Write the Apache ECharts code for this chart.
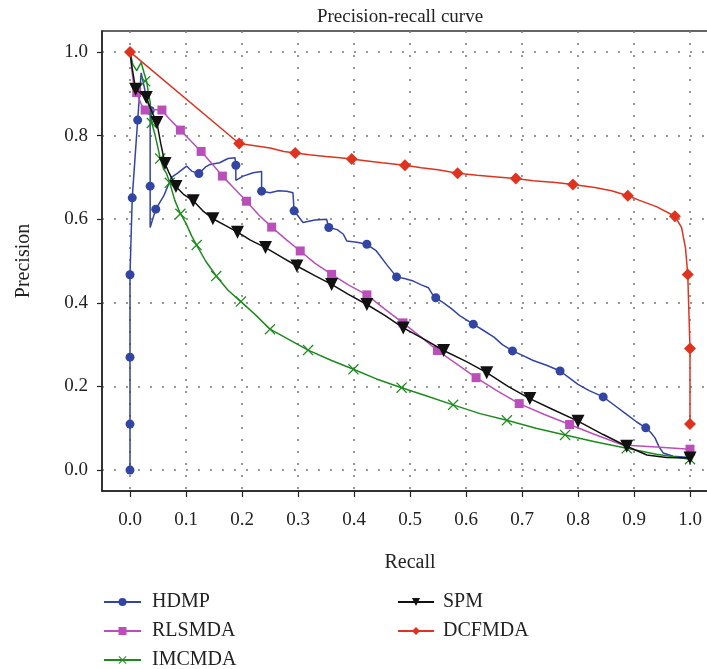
<!DOCTYPE html>
<html>
<head>
<meta charset="utf-8">
<script src="https://cdn.jsdelivr.net/npm/echarts@6/dist/echarts.min.js"></script>
<style>
html,body{margin:0;padding:0;background:#fff;}
#chart{width:707px;height:669px;}
</style>
</head>
<body>
<div id="chart"></div>
<script>
// ---- tick values ----
const xTicks = [0, 0.1, 0.2, 0.3, 0.4, 0.5, 0.6, 0.7, 0.8, 0.9, 1.0];
const yTicks = [0, 0.2, 0.4, 0.6, 0.8, 1.0];

// ---- series names ----
const seriesNames = ['HDMP', 'RLSMDA', 'IMCMDA', 'SPM', 'DCFMDA'];

// ---- HDMP ----
const hdmpCurve = [[0,0],[0,0.11],[0,0.27],[0,0.467],[0.004,0.651],[0.0137,0.837],[0.02,0.95],[0.028,0.9],[0.036,0.86],[0.036,0.679],[0.036,0.58],[0.046,0.624],[0.06,0.655],[0.074,0.70],[0.085,0.71],[0.101,0.727],[0.11,0.715],[0.123,0.709],[0.135,0.725],[0.143,0.731],[0.16,0.735],[0.175,0.745],[0.1875,0.747],[0.189,0.729],[0.189,0.693],[0.202,0.703],[0.22,0.711],[0.235,0.714],[0.235,0.667],[0.25,0.663],[0.265,0.668],[0.28,0.667],[0.291,0.663],[0.293,0.62],[0.309,0.592],[0.33,0.598],[0.351,0.60],[0.355,0.58],[0.37,0.575],[0.381,0.564],[0.387,0.548],[0.405,0.545],[0.423,0.54],[0.44,0.524],[0.458,0.492],[0.476,0.462],[0.49,0.458],[0.506,0.452],[0.52,0.443],[0.533,0.436],[0.542,0.416],[0.546,0.412],[0.56,0.40],[0.575,0.385],[0.59,0.368],[0.613,0.349],[0.63,0.335],[0.65,0.318],[0.665,0.30],[0.683,0.285],[0.70,0.275],[0.72,0.262],[0.745,0.25],[0.768,0.237],[0.785,0.22],[0.80,0.205],[0.82,0.19],[0.845,0.175],[0.865,0.155],[0.885,0.135],[0.905,0.115],[0.921,0.101],[0.93,0.09],[0.9375,0.077],[0.945,0.055],[0.952,0.041],[0.97,0.033],[1.0,0.03]];
const hdmpMarks = [[0,0],[0,0.11],[0,0.27],[0,0.467],[0.004,0.651],[0.0137,0.837],[0.036,0.86],[0.036,0.679],[0.046,0.624],[0.123,0.709],[0.189,0.729],[0.235,0.667],[0.293,0.62],[0.355,0.58],[0.423,0.54],[0.476,0.462],[0.546,0.412],[0.613,0.349],[0.683,0.285],[0.768,0.237],[0.845,0.175],[0.921,0.101]];

// ---- RLSMDA ----
const rlsCurve = [[0,1.0],[0.003,0.96],[0.006,0.927],[0.012,0.903],[0.02,0.875],[0.027,0.861],[0.04,0.862],[0.057,0.861],[0.07,0.84],[0.09,0.813],[0.11,0.785],[0.127,0.762],[0.145,0.735],[0.165,0.703],[0.185,0.675],[0.208,0.643],[0.23,0.61],[0.253,0.581],[0.28,0.55],[0.304,0.524],[0.33,0.495],[0.36,0.468],[0.39,0.443],[0.423,0.419],[0.455,0.385],[0.4875,0.352],[0.52,0.318],[0.549,0.286],[0.585,0.252],[0.618,0.221],[0.655,0.19],[0.695,0.159],[0.74,0.133],[0.785,0.109],[0.83,0.085],[0.88,0.06],[0.94,0.055],[1.0,0.05]];
const rlsMarks = [[0.012,0.903],[0.027,0.861],[0.057,0.861],[0.09,0.813],[0.127,0.762],[0.165,0.703],[0.208,0.643],[0.253,0.581],[0.304,0.524],[0.36,0.468],[0.423,0.419],[0.4875,0.352],[0.549,0.286],[0.618,0.221],[0.695,0.159],[0.785,0.109],[1.0,0.05]];

// ---- IMCMDA ----
const imcCurve = [[0,1.0],[0.005,0.97],[0.012,0.955],[0.02,0.975],[0.025,0.95],[0.03,0.928],[0.033,0.9],[0.036,0.88],[0.039,0.83],[0.045,0.8],[0.05,0.77],[0.054,0.745],[0.06,0.72],[0.065,0.71],[0.071,0.687],[0.08,0.645],[0.09,0.613],[0.1,0.59],[0.11,0.56],[0.119,0.538],[0.135,0.5],[0.154,0.464],[0.175,0.43],[0.198,0.403],[0.225,0.37],[0.25,0.337],[0.28,0.315],[0.318,0.287],[0.36,0.262],[0.399,0.241],[0.44,0.218],[0.485,0.197],[0.53,0.177],[0.577,0.156],[0.625,0.135],[0.673,0.119],[0.725,0.1],[0.777,0.084],[0.83,0.068],[0.887,0.052],[0.94,0.038],[1.0,0.026]];
const imcMarks = [[0.027,0.93],[0.039,0.83],[0.054,0.745],[0.071,0.687],[0.09,0.613],[0.119,0.538],[0.154,0.464],[0.198,0.403],[0.25,0.337],[0.318,0.287],[0.399,0.241],[0.485,0.197],[0.577,0.156],[0.673,0.119],[0.777,0.084],[0.887,0.052],[1.0,0.026]];

// ---- SPM ----
const spmCurve = [[0,1.0],[0.004,0.96],[0.01,0.911],[0.02,0.9],[0.029,0.891],[0.038,0.86],[0.048,0.831],[0.055,0.78],[0.0625,0.733],[0.07,0.71],[0.082,0.678],[0.095,0.66],[0.113,0.644],[0.13,0.62],[0.148,0.601],[0.17,0.585],[0.192,0.569],[0.215,0.55],[0.242,0.532],[0.27,0.51],[0.298,0.488],[0.33,0.465],[0.36,0.444],[0.39,0.42],[0.423,0.396],[0.455,0.37],[0.488,0.34],[0.525,0.313],[0.56,0.286],[0.6,0.26],[0.637,0.233],[0.675,0.2],[0.714,0.171],[0.755,0.145],[0.80,0.117],[0.845,0.085],[0.887,0.057],[0.923,0.036],[0.958,0.03],[1.0,0.029]];
const spmMarks = [[0.01,0.911],[0.029,0.891],[0.048,0.831],[0.0625,0.733],[0.082,0.678],[0.113,0.644],[0.148,0.601],[0.192,0.569],[0.242,0.532],[0.298,0.488],[0.36,0.444],[0.423,0.396],[0.488,0.34],[0.56,0.286],[0.637,0.233],[0.714,0.171],[0.80,0.117],[0.887,0.057],[1.0,0.029]];

// ---- DCFMDA ----
const dcfCurve = [[0,1.0],[0.195,0.781],[0.22,0.776],[0.25,0.77],[0.275,0.762],[0.295,0.758],[0.32,0.754],[0.35,0.75],[0.375,0.747],[0.396,0.744],[0.42,0.74],[0.45,0.735],[0.491,0.729],[0.52,0.723],[0.55,0.718],[0.585,0.71],[0.62,0.705],[0.655,0.701],[0.689,0.697],[0.72,0.692],[0.76,0.688],[0.791,0.683],[0.83,0.676],[0.86,0.668],[0.889,0.656],[0.91,0.645],[0.94,0.63],[0.973,0.607],[0.985,0.58],[0.992,0.53],[0.996,0.468],[0.998,0.38],[1.0,0.291],[1.0,0.11]];
const dcfMarks = [[0,1.0],[0.195,0.781],[0.295,0.758],[0.396,0.744],[0.491,0.729],[0.585,0.71],[0.689,0.697],[0.791,0.683],[0.889,0.656],[0.973,0.607],[0.996,0.468],[1.0,0.291],[1.0,0.11]];

// ---- styling ----
const FONT = 'Liberation Serif';
const crossPath = 'path://M0,0.8 L0.8,0 L5,4.2 L9.2,0 L10,0.8 L5.8,5 L10,9.2 L9.2,10 L5,5.8 L0.8,10 L0,9.2 L4.2,5 Z';
const triDownPath = 'path://M0,0 L10,0 L5,9 Z';
const styles = [
  {color:'#3245a3', symbol:'circle', size:9, curve:hdmpCurve, marks:hdmpMarks},
  {color:'#bb4fb9', symbol:'rect', size:9, curve:rlsCurve, marks:rlsMarks},
  {color:'#1d8a1d', symbol:crossPath, size:11, curve:imcCurve, marks:imcMarks},
  {color:'#111111', symbol:triDownPath, size:13, curve:spmCurve, marks:spmMarks},
  {color:'#e0331f', symbol:'diamond', size:12, curve:dcfCurve, marks:dcfMarks}
];

const series = [];
seriesNames.forEach((name, i) => {
  const s = styles[i];
  series.push({
    name: name, type: 'line', data: s.curve, symbol: s.symbol, showSymbol: false,
    lineStyle: {color: s.color, width: 1.5}, itemStyle: {color: s.color},
    emphasis: {disabled: true}, z: 2 + i * 2
  });
  series.push({
    name: name + '_m', type: 'scatter', data: s.marks, symbol: s.symbol, symbolSize: s.size,
    itemStyle: {color: s.color, opacity: 1}, emphasis: {disabled: true}, z: 3 + i * 2
  });
});

const legendText = {fontFamily: FONT, fontSize: 20, color: '#222', lineHeight: 20};

const chart = echarts.init(document.getElementById('chart'), null, {renderer: 'canvas'});
chart.setOption({
  animation: false,
  backgroundColor: '#fff',
  title: {
    text: 'Precision-recall curve', left: 395, top: 3, textAlign: 'center',
    textStyle: {fontFamily: FONT, fontSize: 19, fontWeight: 'normal', color: '#222'}
  },
  grid: {left: 102, top: 31, width: 616, height: 460, outerBoundsMode: 'none', containLabel: false,
         show: true, borderColor: '#333', borderWidth: 1.5, backgroundColor: 'transparent'},
  legend: [
    {
      data: seriesNames.slice(0, 3), left: 103, top: 592, height: 90, orient: 'vertical', padding: 0,
      itemWidth: 37, itemHeight: 10, itemGap: 9,
      textStyle: Object.assign({padding: [0,0,0,6]}, legendText),
      selectedMode: false
    },
    {
      data: seriesNames.slice(3), left: 397, top: 592, height: 90, orient: 'vertical', padding: 0,
      itemWidth: 36, itemHeight: 10, itemGap: 9,
      textStyle: Object.assign({padding: [0,0,0,4]}, legendText),
      selectedMode: false
    }
  ],
  xAxis: {
    type: 'value', min: -0.05, max: 1.05,
    name: 'Recall', nameLocation: 'middle', nameGap: 62,
    nameTextStyle: {fontFamily: FONT, fontSize: 20, color: '#222'},
    axisLine: {show: true, onZero: false, lineStyle: {color: '#222', width: 1.5}},
    axisTick: {show: true, customValues: xTicks, length: 6, lineStyle: {color: '#222', width: 1.2}},
    axisLabel: {customValues: xTicks, margin: 20, fontFamily: FONT, fontSize: 19, color: '#222', formatter: v => v.toFixed(1)},
    splitLine: {show: true, lineStyle: {color: '#777', width: 1.5, type: [2, 10]}}
  },
  yAxis: {
    type: 'value', min: -0.05, max: 1.05,
    name: 'Precision', nameLocation: 'middle', nameGap: 68, nameRotate: 90,
    nameTextStyle: {fontFamily: FONT, fontSize: 20, color: '#222'},
    axisLine: {show: true, onZero: false, lineStyle: {color: '#222', width: 1.5}},
    axisTick: {show: true, customValues: yTicks, length: 5, lineStyle: {color: '#222', width: 1.2}},
    axisLabel: {customValues: yTicks, margin: 14, fontFamily: FONT, fontSize: 19, color: '#222', formatter: v => v.toFixed(1)},
    splitLine: {show: true, lineStyle: {color: '#777', width: 1.5, type: [2, 10]}}
  },
  series: series
});
</script>
</body>
</html>
